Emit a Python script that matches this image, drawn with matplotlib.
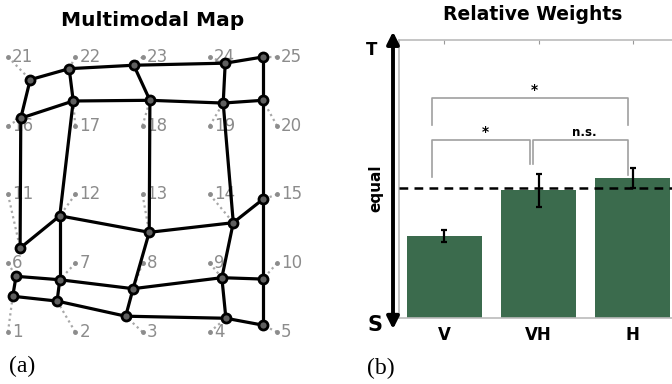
import numpy as np
import matplotlib
matplotlib.use('Agg')
import matplotlib.pyplot as plt

# ---- left panel: 5x5 grid points and where they ended up on the map ----
point_ids = list(range(1, 26))
mapped_x = [0.07, 0.73, 1.75, 3.24, 3.79,
            0.12, 0.77, 1.86, 3.18, 3.79,
            0.18, 0.77, 2.10, 3.35, 3.79,
            0.19, 0.97, 2.11, 3.20, 3.79,
            0.33, 0.91, 1.87, 3.23, 3.79]
mapped_y = [0.52, 0.45, 0.23, 0.20, 0.10,
            0.81, 0.76, 0.63, 0.79, 0.77,
            1.22, 1.69, 1.45, 1.59, 1.93,
            3.11, 3.36, 3.37, 3.33, 3.37,
            3.67, 3.83, 3.88, 3.91, 4.00]
missing_edges = [(6, 11)]

# ---- right panel: relative weights ----
conditions = ['V', 'VH', 'H']
weights = [0.315, 0.492, 0.538]
errors = [0.023, 0.063, 0.038]
equal_level = 0.5
# (x_left, x_right, top, left leg end, right leg end, label)
brackets = [(0.87, 2.95, 0.846, 0.742, 0.742, '*'),
            (0.87, 1.91, 0.685, 0.542, 0.592, '*'),
            (1.94, 2.95, 0.685, 0.592, 0.550, 'n.s.')]

fig = plt.figure(figsize=(6.72, 3.84), dpi=100)

# ---------------- left ----------------
ax1 = fig.add_axes([0, 39 / 384, 300 / 672, 305 / 384])
ax1.set_xlim(-0.119, 4.342)
ax1.set_ylim(-0.189, 4.247)
ax1.axis('off')

grid_x = [(i - 1) % 5 for i in point_ids]
grid_y = [(i - 1) // 5 for i in point_ids]

for i in point_ids:
    k = i - 1
    ax1.plot([grid_x[k], mapped_x[k]], [grid_y[k], mapped_y[k]],
             color='#a8a8a8', lw=1.6, ls=(0, (1, 1.5)), zorder=1)
    ax1.plot(grid_x[k], grid_y[k], 'o', color='#8c8c8c', ms=2.5, zorder=1)
    ax1.text(grid_x[k] + 0.06, grid_y[k], str(i), color='#8c8c8c',
             fontsize=12, va='center', ha='left', zorder=1, clip_on=False)

edges = []
for i in point_ids:
    if i % 5 != 0:
        edges.append((i, i + 1))
    if i <= 20:
        edges.append((i, i + 5))
edges = [e for e in edges if e not in missing_edges]

for a, b in edges:
    ax1.plot([mapped_x[a - 1], mapped_x[b - 1]], [mapped_y[a - 1], mapped_y[b - 1]],
             color='black', lw=2.3, solid_capstyle='round', zorder=2)
ax1.plot(mapped_x, mapped_y, 'o', ms=6.5, mfc='#606060', mec='black',
         mew=2, ls='none', zorder=3)

fig.text(153 / 672, 1 - 20 / 384, 'Multimodal Map', fontsize=14.5,
         fontweight='bold', ha='center', va='center')
fig.text(22 / 672, 1 - 366 / 384, '(a)', fontsize=17, family='Liberation Serif',
         ha='center', va='center')

# ---------------- right ----------------
ax2 = fig.add_axes([399 / 672, 66 / 384, 279 / 672, 278 / 384])
xpos = np.arange(1, len(conditions) + 1)
ax2.bar(xpos, weights, width=0.8, color='#3b6b4d', zorder=2)
ax2.errorbar(xpos, weights, yerr=errors, fmt='none', ecolor='black',
             elinewidth=1.6, capsize=2.2, capthick=1.6, zorder=3)
ax2.axhline(equal_level, color='black', lw=1.8, ls=(0, (3.5, 2.5)), zorder=4)

for x0, x1, top, l_end, r_end, label in brackets:
    ax2.plot([x0, x0, x1, x1], [l_end, top, top, r_end],
             color='#a0a0a0', lw=1.2, zorder=1)
    if label == '*':
        ax2.text((x0 + x1) / 2 + 0.05, top + 0.03, label, fontsize=10,
                 fontweight='bold', ha='center', va='center')
    else:
        ax2.text((x0 + x1) / 2 + 0.04, top + 0.03, label, fontsize=8.5,
                 fontweight='bold', ha='center', va='center')

ax2.set_xlim(0.52, 3.48)
ax2.set_ylim(0, 1.07)
ax2.set_xticks(xpos)
ax2.set_xticklabels(conditions, fontsize=12, fontweight='bold')
ax2.set_yticks([])
ax2.tick_params(axis='x', top=True, bottom=False, direction='in', length=3,
                color='#999999', pad=6)
for side in ['left', 'top', 'bottom', 'right']:
    ax2.spines[side].set_color('#bbbbbb')
    ax2.spines[side].set_linewidth(1.2)

ax2.annotate('', xy=(-0.0215, 1.03), xytext=(-0.0215, -0.04),
             xycoords='axes fraction', annotation_clip=False,
             arrowprops=dict(arrowstyle='<|-|>', lw=2.8, color='black',
                             mutation_scale=18, shrinkA=0, shrinkB=0))
ax2.text(-0.1, 0.964, 'T', transform=ax2.transAxes, fontsize=12,
         fontweight='bold', ha='center', va='center')
ax2.text(-0.086, -0.025, 'S', transform=ax2.transAxes, fontsize=15,
         fontweight='bold', ha='center', va='center')
ax2.text(-0.083, equal_level, 'equal', transform=ax2.get_yaxis_transform(),
         fontsize=11, fontweight='bold', rotation=90, ha='center', va='center')

fig.text(533 / 672, 1 - 15 / 384, 'Relative Weights', fontsize=13.5,
         fontweight='bold', ha='center', va='center')
fig.text(381 / 672, 1 - 368 / 384, '(b)', fontsize=17, family='Liberation Serif',
         ha='center', va='center')

fig.savefig('out.png', dpi=100)
